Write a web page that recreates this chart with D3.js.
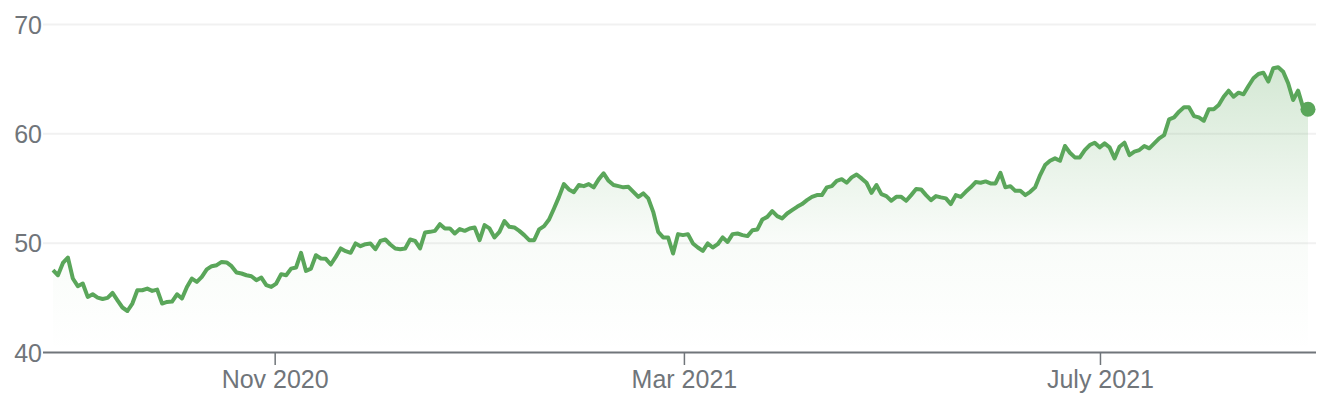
<!DOCTYPE html>
<html>
<head>
<meta charset="utf-8">
<script src="https://cdn.jsdelivr.net/npm/d3@7"></script>
<style>
  body { margin: 0; background: #fff; }
  svg { display: block; font-family: "Liberation Sans", Arial, sans-serif; }
  .axis text { fill: #70757a; font-size: 25px; }
</style>
</head>
<body>
<svg width="1336" height="400"></svg>
<script>
// closing prices, one per trading day in order
var pricesSepOct = [47.48, 47.02, 48.15, 48.64, 46.72, 46.02, 46.26, 45.04, 45.28, 44.98,
  44.85, 44.95, 45.4, 44.73, 44.07, 43.75, 44.43, 45.65, 45.65, 45.8,
  45.59, 45.71, 44.43, 44.58, 44.61, 45.28, 44.89, 45.95, 46.72, 46.41,
  46.87, 47.55, 47.85, 47.94, 48.24, 48.19, 47.85, 47.27, 47.18, 47.02,
  46.93, 46.57, 46.81];
var pricesNovDec = [46.11, 45.95, 46.26, 47.12, 47.02, 47.63, 47.73, 49.07, 47.42, 47.63,
  48.85, 48.55, 48.52, 48.0, 48.7, 49.47, 49.22, 49.07, 49.93, 49.68,
  49.86, 49.93, 49.4, 50.16, 50.29, 49.83, 49.47, 49.4, 49.47, 50.29,
  50.16, 49.47, 50.93, 50.99, 51.08, 51.69, 51.3, 51.3, 50.84, 51.24,
  51.08, 51.3];
var pricesJanFeb = [51.39, 50.23, 51.6, 51.3, 50.48, 50.99, 51.97, 51.45, 51.39, 51.08,
  50.69, 50.23, 50.23, 51.21, 51.51, 52.12, 53.13, 54.19, 55.36, 54.87,
  54.62, 55.27, 55.17, 55.36, 55.06, 55.79, 56.34, 55.66, 55.27, 55.17,
  55.06, 55.11, 54.65, 54.19, 54.51, 54.05, 52.82, 50.99, 50.48, 50.48,
  49.01, 50.78];
var pricesMarApr = [50.69, 50.78, 49.93, 49.56, 49.25, 49.93, 49.56, 49.86, 50.48, 50.07,
  50.78, 50.84, 50.69, 50.6, 51.14, 51.21, 52.12, 52.36, 52.88, 52.43,
  52.22, 52.67, 52.98, 53.28, 53.53, 53.89, 54.19, 54.35, 54.35, 55.06,
  55.17, 55.66, 55.81, 55.48, 55.97, 56.24, 55.88, 55.48, 54.56, 55.27,
  54.44];
var pricesMayJun = [54.26, 53.83, 54.19, 54.19, 53.83, 54.35, 54.9, 54.87, 54.35, 53.89,
  54.26, 54.14, 54.05, 53.53, 54.35, 54.19, 54.65, 55.06, 55.54, 55.48,
  55.6, 55.42, 55.42, 56.39, 55.06, 55.17, 54.74, 54.74, 54.35, 54.65,
  55.06, 56.18, 57.1, 57.49, 57.71, 57.49, 58.84, 58.22, 57.8, 57.8,
  58.47, 58.93, 59.14, 58.72];
var pricesJulAug = [59.08, 58.72, 57.71, 58.77, 59.14, 58.01, 58.32, 58.47, 58.84, 58.63,
  59.08, 59.54, 59.84, 61.28, 61.46, 61.98, 62.38, 62.38, 61.58, 61.46,
  61.15, 62.2, 62.2, 62.59, 63.35, 63.9, 63.35, 63.72, 63.57, 64.33,
  65.04, 65.43, 65.55, 64.73, 65.95, 66.04, 65.64, 64.58, 63.05, 63.9,
  62.38, 62.2];

var startDate = new Date(2020, 7, 28),
    endDate = new Date(2021, 7, 31);

var yTicks = [40, 50, 60, 70];
var xTickDates = [new Date(2020, 10, 1), new Date(2021, 2, 1), new Date(2021, 6, 1)];
var xTickLabels = ["Nov 2020", "Mar 2021", "July 2021"];

var prices = [].concat(pricesSepOct, pricesNovDec, pricesJanFeb, pricesMarApr, pricesMayJun, pricesJulAug);

// spread the trading days evenly across the date range
var step = (endDate - startDate) / (prices.length - 1);
var data = prices.map(function(p, i) {
  return {date: new Date(+startDate + i * step), price: p};
});

var svg = d3.select("svg"),
    margin = {top: 24, right: 20, bottom: 48, left: 43},
    width = +svg.attr("width") - margin.left - margin.right,
    height = +svg.attr("height") - margin.top - margin.bottom;

var x = d3.scaleTime().domain([startDate, endDate]).range([10, width - 8]),
    y = d3.scaleLinear().domain([40, 70]).range([height, 0]);

var g = svg.append("g")
    .attr("transform", "translate(" + margin.left + "," + margin.top + ")");

// fading green fill under the line
var grad = svg.append("defs").append("linearGradient")
    .attr("id", "fade")
    .attr("gradientUnits", "userSpaceOnUse")
    .attr("x1", 0).attr("x2", 0)
    .attr("y1", y(d3.max(prices))).attr("y2", y(40));
grad.append("stop").attr("offset", 0).attr("stop-color", "#5aa65a").attr("stop-opacity", 0.26);
grad.append("stop").attr("offset", 0.6).attr("stop-color", "#5aa65a").attr("stop-opacity", 0.04);
grad.append("stop").attr("offset", 1).attr("stop-color", "#5aa65a").attr("stop-opacity", 0);

// y axis: labels plus faint gridlines, the bottom one is the darker baseline
var yAxis = g.append("g")
    .attr("class", "axis axis--y")
    .call(d3.axisLeft(y).tickValues(yTicks).tickSize(-width).tickPadding(1).tickFormat(d3.format("d")));
yAxis.select(".domain").remove();
yAxis.selectAll("line")
    .attr("stroke", function(d) { return d === 40 ? "#70757a" : "#f1f1f1"; })
    .attr("stroke-width", 2);
yAxis.selectAll("text").attr("dy", "0.36em");

var area = d3.area()
    .x(function(d) { return x(d.date); })
    .y0(y(40))
    .y1(function(d) { return y(d.price); });

g.append("path")
    .datum(data)
    .attr("fill", "url(#fade)")
    .attr("d", area);

// x axis ticks below the baseline
var xAxis = g.append("g")
    .attr("class", "axis axis--x")
    .attr("transform", "translate(0," + height + ")")
    .call(d3.axisBottom(x).tickValues(xTickDates).tickSize(13).tickPadding(5)
      .tickFormat(function(d, i) { return xTickLabels[i]; }));
xAxis.select(".domain").remove();
xAxis.selectAll("line").attr("stroke", "#70757a").attr("stroke-width", 1.5);

var line = d3.line()
    .x(function(d) { return x(d.date); })
    .y(function(d) { return y(d.price); });

g.append("path")
    .datum(data)
    .attr("fill", "none")
    .attr("stroke", "#5aa65a")
    .attr("stroke-width", 4)
    .attr("stroke-linejoin", "round")
    .attr("d", line);

// dot on the latest close
var last = data[data.length - 1];
g.append("circle")
    .attr("cx", x(last.date))
    .attr("cy", y(last.price))
    .attr("r", 7.5)
    .attr("fill", "#5aa65a");
</script>
</body>
</html>
